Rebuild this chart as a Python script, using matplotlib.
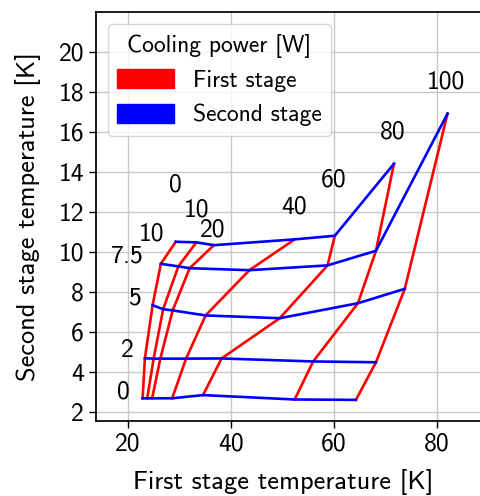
import numpy as np
import matplotlib
matplotlib.use("Agg")
import matplotlib.pyplot as plt
from matplotlib.patches import Patch

plt.rcParams['font.family'] = ['cmss10', 'DejaVu Sans']
plt.rcParams['axes.unicode_minus'] = False
plt.rcParams['font.size'] = 18.5

# cooling power of each stage [W]
q1 = [0, 10, 20, 40, 60, 80, 100]   # first stage (red lines)
q2 = [0, 2, 5, 7.5, 10]             # second stage (blue lines)

# first stage temperature [K], rows = q2, cols = q1
t1 = np.array([
    [22.85, 23.75, 24.7, 28.6, 34.6, 52.4, 64.3],
    [23.3, 25.0, 26.3, 31.3, 38.2, 56.0, 68.2],
    [24.8, 26.85, 28.7, 35.1, 49.5, 64.7, 73.8],
    [26.4, 29.8, 32.0, 43.6, 58.8, 68.2, 82.1],
    [29.3, 33.3, 36.7, 52.4, 60.2, 71.7, np.nan],
])
# second stage temperature [K]
t2 = np.array([
    [2.68, 2.68, 2.68, 2.68, 2.84, 2.62, 2.6],
    [4.68, 4.66, 4.66, 4.66, 4.67, 4.52, 4.48],
    [7.33, 7.13, 7.07, 6.82, 6.68, 7.43, 8.15],
    [9.4, 9.27, 9.18, 9.08, 9.32, 10.05, 16.9],
    [10.5, 10.47, 10.33, 10.62, 10.8, 14.4, np.nan],
])

# label positions
q1_lab_x = [29.3, 33.4, 36.5, 52.2, 60.0, 71.5, 81.7]
q1_lab_y = [13.35, 12.1, 11.1, 12.25, 13.6, 16.0, 18.5]
q2_lab_x = [19.2, 19.9, 21.2, 19.9, 24.6]
q2_lab_y = [3.0, 5.05, 7.7, 9.8, 10.9]

fig = plt.figure(figsize=(4.8, 4.96), dpi=100)
ax = fig.add_axes([0.2, 0.151, 0.817, 0.824])

for j in range(len(q1)):
    ok = ~np.isnan(t1[:, j])
    ax.plot(t1[ok, j], t2[ok, j], color='red', lw=1.9)
for i in range(len(q2)):
    ok = ~np.isnan(t1[i])
    ax.plot(t1[i, ok], t2[i, ok], color='blue', lw=1.9)

for j in range(len(q1)):
    ax.text(q1_lab_x[j], q1_lab_y[j], str(q1[j]), ha='center', va='center')
for i in range(len(q2)):
    ax.text(q2_lab_x[i], q2_lab_y[i], str(q2[i]), ha='center', va='center')

ax.set_xlim(13.8, 90)
ax.set_ylim(1.54, 21.96)
ax.set_xticks([20, 40, 60, 80])
ax.set_yticks(np.arange(2, 21, 2))
ax.grid(True, color='#c8c8c8', lw=1)
ax.set_axisbelow(True)
for s in ax.spines.values():
    s.set_linewidth(1.25)
ax.tick_params(length=5, width=1)
ax.set_xlabel('First stage temperature [K]', fontsize=19, labelpad=9.5)
ax.xaxis.label.set_x(0.478)
ax.set_ylabel('Second stage temperature [K]', fontsize=19, labelpad=13)

handles = [Patch(color='red', label='First stage'),
           Patch(color='blue', label='Second stage')]
ax.legend(handles=handles, title='Cooling power [W]', loc='upper left',
          fontsize=17, title_fontsize=17, handlelength=2.4, handleheight=0.85)

fig.savefig('out.png', dpi=100)
